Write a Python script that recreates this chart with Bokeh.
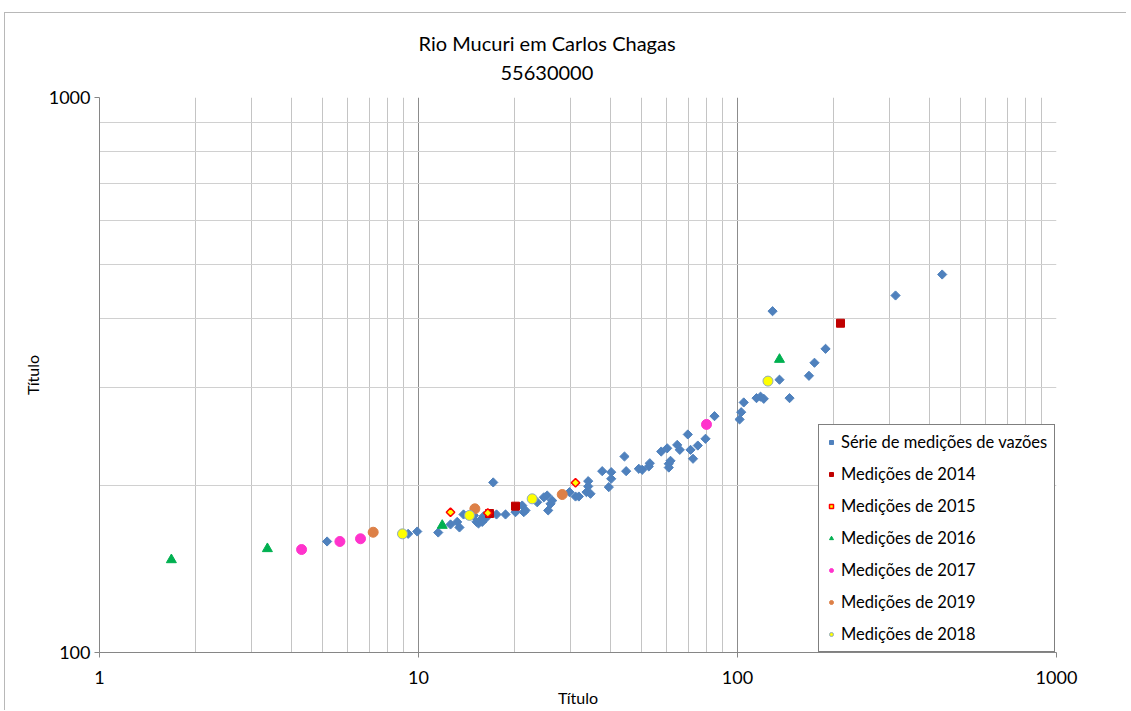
import numpy as np
from bokeh.plotting import figure
from bokeh.models import (Title, Legend, LegendItem, FixedTicker, NumeralTickFormatter, Range1d)
from bokeh.embed import file_html
from bokeh.resources import INLINE

title_line1 = "Rio Mucuri em Carlos Chagas"
title_line2 = "55630000"
x_label = "Título"
y_label = "Título"

x_major = [1, 10, 100, 1000]
x_minor = [2, 3, 4, 5, 6, 7, 8, 9, 20, 30, 40, 50, 60, 70, 80, 90, 200, 300, 400, 500, 600, 700, 800, 900]
y_major = [100, 1000]
y_minor = [200, 300, 400, 500, 600, 700, 800, 900]

serie_x = [5.17, 9.28, 9.91, 11.53, 12.60, 13.22, 13.44, 13.84, 14.91, 15.2, 15.42, 15.6, 15.84, 16.0, 16.22,
           17.15, 17.56, 18.74, 20.14, 21.14, 21.38, 21.65, 23.56, 24.71, 25.32, 25.50, 25.93, 26.25, 29.74,
           31.06, 31.81, 33.62, 34.04, 34.04, 34.61, 37.66, 39.50, 40.19, 40.19, 44.23, 44.77, 49.05, 50.27,
           52.72, 53.10, 57.66, 60.21, 60.90, 60.90, 61.66, 64.71, 65.93, 69.86, 71.24, 72.54, 75.08, 79.38,
           84.7, 101.5, 102.7, 104.6, 114.7, 118.1, 120.9, 128.8, 135.4, 145.6, 167.5, 174.3, 188.8, 312.9, 438.2]
serie_y = [158.5, 163.6, 165.2, 164.5, 170.1, 171.9, 168.0, 177.3, 176.6, 172.0, 170.8, 172.9, 171.9, 176.0, 174.4,
           202.5, 177.3, 177.3, 179.0, 184.0, 179.0, 180.3, 186.5, 190.4, 191.8, 180.3, 185.3, 187.8, 194.5,
           191.0, 191.0, 194.5, 203.6, 199.2, 193.2, 212.2, 198.6, 211.3, 205.6, 225.5, 212.2, 214.3, 213.4,
           216.4, 219.3, 230.2, 233.3, 218.8, 215.4, 221.5, 236.6, 231.8, 247.1, 231.8, 223.4, 236.0, 242.7,
           266.6, 263.0, 271.0, 282.2, 287.3, 289.0, 286.5, 412.1, 310.1, 287.3, 315.2, 332.7, 352.5, 439.8, 479.8]

m2014_x = [16.70, 20.14, 210.3]
m2014_y = [178.0, 183.5, 392.0]
m2015_x = [12.60, 16.49, 31.06]
m2015_y = [179.0, 178.4, 202.2]
m2016_x = [1.68, 3.36, 11.87, 135.4]
m2016_y = [146.9, 153.8, 169.4, 337.3]
m2017_x = [4.30, 5.67, 6.58, 79.95]
m2017_y = [153.3, 158.5, 160.3, 257.6]
m2019_x = [7.21, 15.02, 28.22]
m2019_y = [164.7, 181.5, 192.6]
m2018_x = [8.91, 14.45, 22.72, 124.6]
m2018_y = [163.6, 176.6, 189.2, 308.3]

labels = ["Série de medições de vazões", "Medições de 2014", "Medições de 2015", "Medições de 2016",
          "Medições de 2017", "Medições de 2019", "Medições de 2018"]

FONT = "Lato"

p = figure(width=1122, height=698, x_axis_type="log", y_axis_type="log",
           x_range=Range1d(1, 1000), y_range=Range1d(100, 1000),
           output_backend="svg", toolbar_location=None,
           min_border_left=94, min_border_right=71, min_border_top=84, min_border_bottom=59)
p.styles = {"border-top": "1px solid #b8b8b8", "border-left": "1px solid #b8b8b8",
            "margin-top": "12px", "margin-left": "4px"}
p.outline_line_color = None
p.background_fill_color = "white"
p.border_fill_color = "white"

xt = FixedTicker(ticks=x_major, minor_ticks=x_minor)
yt = FixedTicker(ticks=y_major, minor_ticks=y_minor)
p.xaxis.ticker = xt
p.yaxis.ticker = yt
p.xgrid.ticker = xt
p.ygrid.ticker = yt

p.xgrid.grid_line_color = "#8c8c8c"
p.xgrid.minor_grid_line_color = "#c4c4c4"
p.ygrid.grid_line_color = "#d0d0d0"
p.ygrid.minor_grid_line_color = "#d0d0d0"
p.grid.grid_line_width = 1
p.grid.minor_grid_line_width = 1

for ax in (p.xaxis, p.yaxis):
    ax.formatter = NumeralTickFormatter(format="0")
    ax.axis_line_color = "#868686"
    ax.axis_line_width = 1
    ax.major_tick_line_color = "#868686"
    ax.major_tick_out = 5
    ax.major_tick_in = 0
    ax.minor_tick_out = 0
    ax.minor_tick_in = 0
    ax.major_label_text_font = FONT
    ax.major_label_text_font_size = "18px"
    ax.major_label_text_color = "#000000"
    ax.axis_label_text_font = FONT
    ax.axis_label_text_font_size = "16px"
    ax.axis_label_text_font_style = "normal"
    ax.axis_label_text_color = "#000000"

p.xaxis.axis_label = x_label
p.yaxis.axis_label = y_label
p.xaxis.major_label_standoff = 13
p.xaxis.axis_label_standoff = 1
p.yaxis.major_label_standoff = 4
p.yaxis.axis_label_standoff = 4

r0 = p.scatter(serie_x, serie_y, marker="square", angle=np.pi / 4, size=6.5,
               fill_color="#4F81BD", line_color="#4F81BD")
r1 = p.scatter(m2014_x, m2014_y, marker="square", size=8,
               fill_color="#C00000", line_color="#C00000")
r2 = p.scatter(m2015_x, m2015_y, marker="square", angle=np.pi / 4, size=6,
               fill_color="#FFFF00", line_color="#FF0000", line_width=1.5)
r3 = p.scatter(m2016_x, m2016_y, marker="triangle", size=10,
               fill_color="#00B050", line_color="#00B050")
r4 = p.scatter(m2017_x, m2017_y, marker="circle", size=10,
               fill_color="#FF33CC", line_color="#FF33CC")
r5 = p.scatter(m2019_x, m2019_y, marker="circle", size=10,
               fill_color="#DD8047", line_color="#DD8047")
r6 = p.scatter(m2018_x, m2018_y, marker="circle", size=10,
               fill_color="#FFFF00", line_color="#8EA9C1")

items = [LegendItem(label=lab, renderers=[r]) for lab, r in zip(labels, [r0, r1, r2, r3, r4, r5, r6])]
legend = Legend(items=items, location=(719, 0), orientation="vertical",
                border_line_color="#000000", border_line_width=1,
                background_fill_color="white", background_fill_alpha=1.0,
                label_text_font=FONT, label_text_font_size="16.5px", label_text_color="#000000",
                glyph_width=10, glyph_height=20, label_height=20, label_standoff=5,
                spacing=12, padding=7, margin=0)
p.add_layout(legend, "center")

# spacer between plot frame and subtitle
p.add_layout(Title(text=" ", text_font=FONT, text_font_size="1px", standoff=6), "above")
p.add_layout(Title(text=title_line2, align="left", offset=401, text_font=FONT,
                   text_font_size="20px", text_font_style="normal", text_color="#000000",
                   standoff=18), "above")
p.add_layout(Title(text=title_line1, align="left", offset=319, text_font=FONT,
                   text_font_size="20px", text_font_style="normal", text_color="#000000",
                   standoff=0), "above")

open("out.html", "w").write(file_html(p, INLINE))
